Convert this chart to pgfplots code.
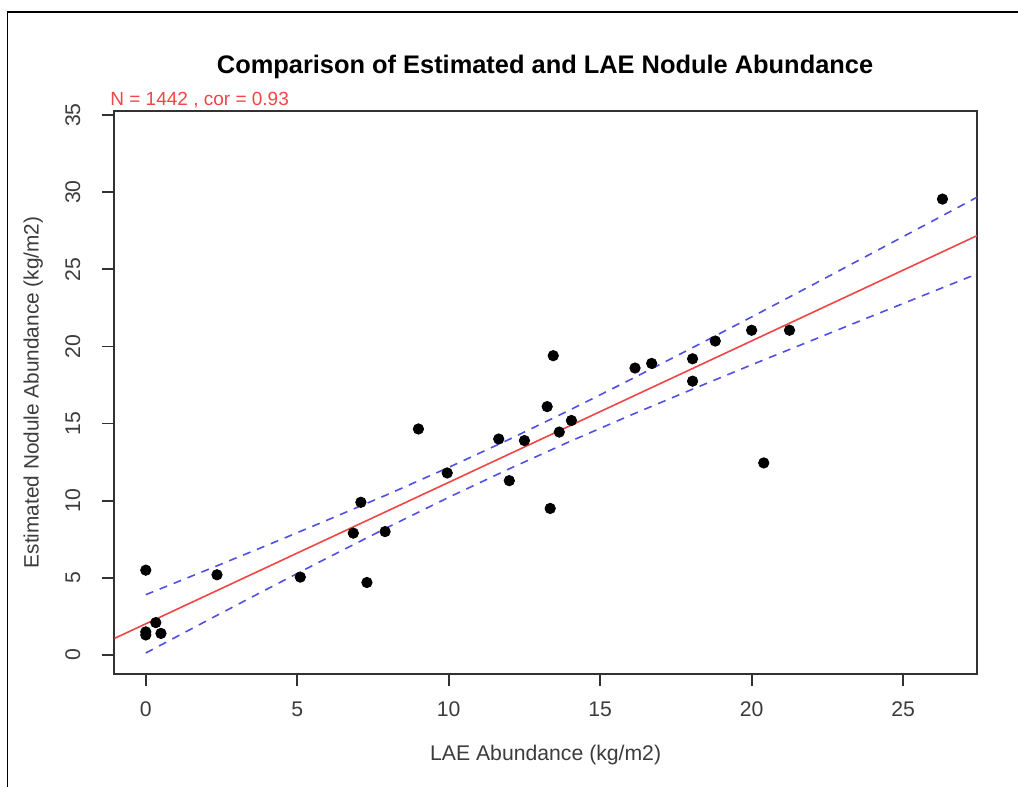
\documentclass[border=0pt]{standalone}
\usepackage{fontspec}
\setmainfont{Liberation Sans}
\usepackage{pgfplots}
\pgfplotsset{compat=1.18}
\definecolor{rline}{RGB}{240,70,70}
\definecolor{bline}{RGB}{80,80,225}
\definecolor{axgray}{RGB}{50,50,50}
\definecolor{txtgray}{RGB}{60,60,60}
\begin{document}
\begin{tikzpicture}
\useasboundingbox (0,0) rectangle (509pt,393.5pt);
\fill[white] (0,0) rectangle (509pt,393.5pt);
\draw[line width=0.9pt, black] (3.75pt,0) -- (3.75pt,387.5pt) -- (509pt,387.5pt);
\begin{axis}[
  at={(57.15pt,56.5pt)}, anchor=south west,
  scale only axis, width=431.35pt, height=281.65pt,
  xmin=-1.04, xmax=27.44, ymin=-1.23, ymax=35.28,
  xtick={0,5,...,25}, ytick={0,5,...,35},
  tick align=outside, tick pos=left, major tick length=6pt,
  axis line style={axgray, line width=0.9pt},
  every tick/.style={axgray, line width=0.9pt},
  /pgf/number format/assume math mode=true,
  ticklabel style={font=\fontsize{10.6}{12}\selectfont, text=txtgray},
  yticklabel style={rotate=90, anchor=south},
  xticklabel style={anchor=north},
  yticklabel shift=7.5pt, xticklabel shift=4.5pt,
  clip mode=individual,
  xlabel={LAE Abundance (kg/m2)},
  xlabel style={at={(axis description cs:0.5,-0.1438)}, anchor=center, font=\fontsize{10.6}{12}\selectfont, text=txtgray},
  ylabel={Estimated Nodule Abundance (kg/m2)},
  ylabel style={at={(axis description cs:-0.0939,0.5)}, anchor=center, font=\fontsize{10.4}{12}\selectfont, text=txtgray},
]
\addplot[rline, line width=0.8pt] coordinates {(-1.04,1.07) (27.44,27.18)};
\addplot[bline, line width=0.8pt, dash pattern=on 4pt off 3.5pt] coordinates {
(0,3.91) (2,5.50) (4,7.11) (6,8.75) (8,10.42) (10,12.16) (12,13.98) (14,15.88)
(16,17.85) (18,19.87) (20,21.91) (22,23.98) (24,26.07) (26,28.16) (27.44,29.67)};
\addplot[bline, line width=0.8pt, dash pattern=on 4pt off 3.5pt] coordinates {
(0,0.13) (2,2.21) (4,4.27) (6,6.30) (8,8.29) (10,10.22) (12,12.07) (14,13.84)
(16,15.54) (18,17.19) (20,18.81) (22,20.40) (24,21.99) (26,23.57) (27.44,24.70)};
\addplot[only marks, mark=*, mark size=2.6pt, black] coordinates {
(0,5.5) (0,1.5) (0,1.3) (0.33,2.1) (0.5,1.4) (2.35,5.2) (5.1,5.05)
(6.85,7.9) (7.1,9.9) (7.3,4.7) (7.9,8.0) (9.0,14.65) (9.95,11.8)
(11.65,14.0) (12.0,11.3) (12.5,13.9) (13.25,16.1) (13.35,9.5) (13.45,19.4)
(13.65,14.45) (14.05,15.2) (16.15,18.6) (16.7,18.9) (18.05,19.2) (18.05,17.75)
(18.8,20.35) (20.0,21.05) (20.4,12.45) (21.25,21.05) (26.3,29.55)};
\node[anchor=west, text=rline, font=\fontsize{9.5}{11}\selectfont, inner sep=0pt] at (axis description cs:-0.005,1.019) {N = 1442 , cor = 0.93};
\node[anchor=center, font=\bfseries\fontsize{12.7}{15}\selectfont] at (axis description cs:0.4993,1.0776) {Comparison of Estimated and LAE Nodule Abundance};
\end{axis}
\end{tikzpicture}
\end{document}
